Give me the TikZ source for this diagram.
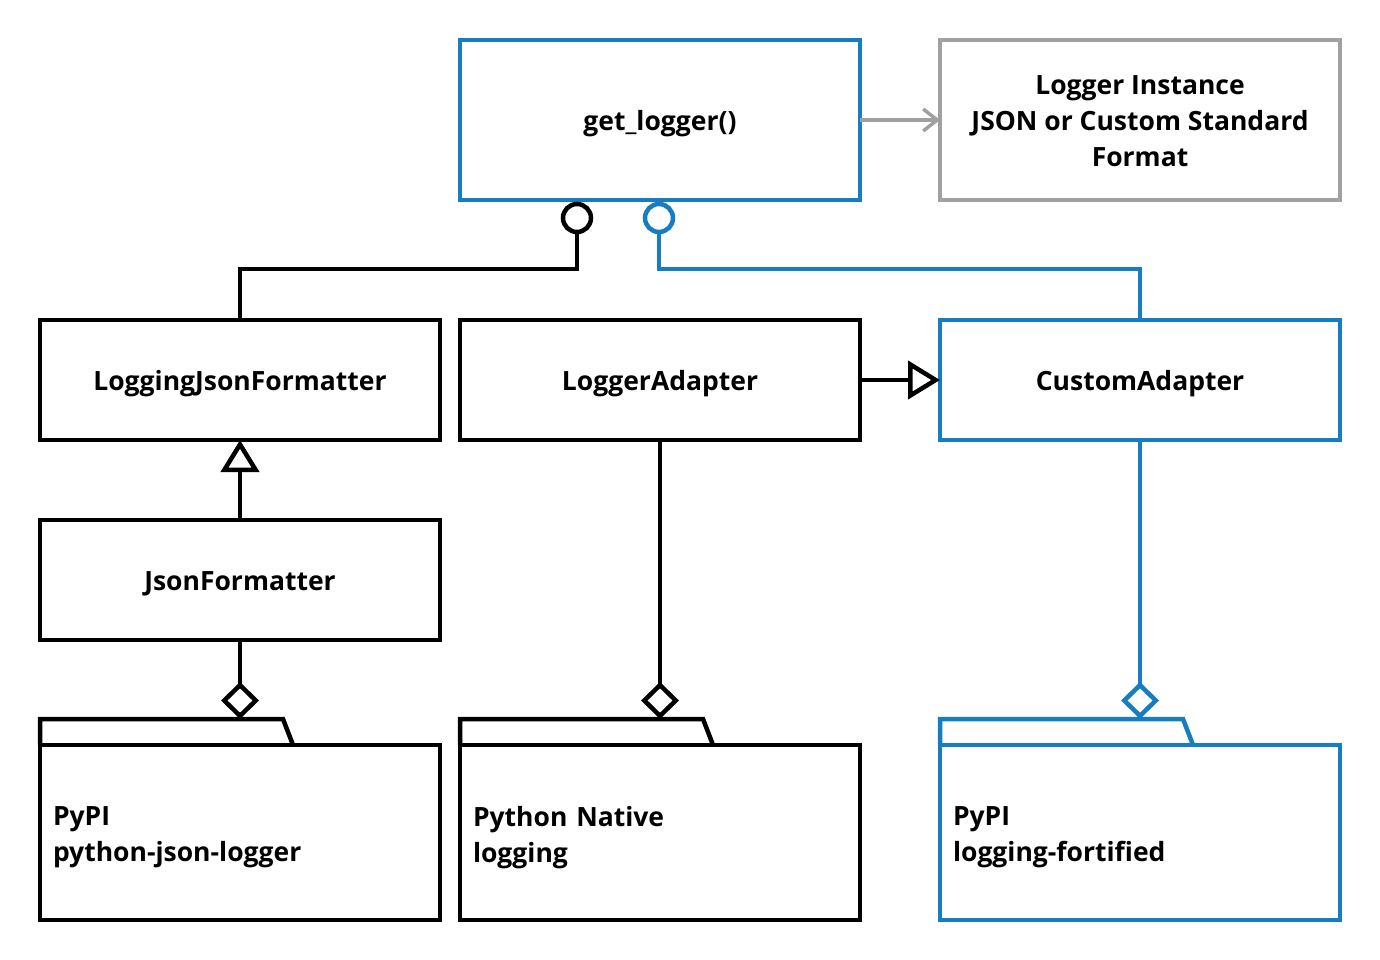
\documentclass[tikz,border=0pt]{standalone}
\usepackage{fontspec}
\setmainfont{Open Sans}
\usetikzlibrary{arrows.meta}
\definecolor{umlblue}{RGB}{22,125,192}
\definecolor{umlgray}{RGB}{160,160,160}
\begin{document}
\begin{tikzpicture}[x=1pt,y=-1pt,
  lbl/.style={font=\fontsize{26.5}{36}\selectfont\bfseries,text=black},
  ctxt/.style={lbl,align=center,yshift=-4pt},
  mtxt/.style={lbl,align=center,yshift=-1.5pt},
  ptxt/.style={lbl,text width=374pt,align=left,yshift=-5pt},
  box/.style={draw,line width=4.5pt,minimum width=400pt,minimum height=120pt,inner sep=0pt,outer sep=0pt},
  tallbox/.style={box,minimum height=160pt},
  pkgbody/.style={draw,line width=4.5pt,minimum width=400pt,minimum height=175pt,inner sep=0pt,outer sep=0pt},
  tabline/.style={line width=4.5pt,line join=miter},
  wire/.style={line width=4.5pt},
  lolli/.style={draw,circle,line width=4.5pt,minimum size=28pt,inner sep=0pt,outer sep=0pt},
  agg/.style={wire,-{Diamond[open,length=37pt,width=38pt]}},
  gen/.style={wire,-{Triangle[open,length=32pt,width=38pt]}},
  dep/.style={wire,line width=3.5pt,umlgray,-{Straight Barb[length=14pt,width=22pt]}}
]
\useasboundingbox (0,0) rectangle (1380,960);
% top row
\node[tallbox,umlblue,label={[ctxt]center:get\_logger()}] (gl) at (660,120) {};
\node[tallbox,umlgray,line width=3.5pt,label={[mtxt]center:Logger Instance\\JSON or Custom Standard\\Format}] (li) at (1140,120) {};
% middle row
\node[box,label={[ctxt]center:LoggingJsonFormatter}] (ljf) at (240,380) {};
\node[box,label={[ctxt]center:LoggerAdapter}] (la) at (660,380) {};
\node[box,umlblue,label={[ctxt]center:CustomAdapter}] (ca) at (1140,380) {};
\node[box,label={[ctxt]center:JsonFormatter}] (jf) at (240,580) {};
% packages
\node[pkgbody,label={[ptxt]center:PyPI\\python-json-logger}] (pA) at (240,832.5) {};
\node[pkgbody,label={[ptxt]center:Python Native\\logging}] (pB) at (660,832.5) {};
\node[pkgbody,umlblue,label={[ptxt]center:PyPI\\logging-fortified}] (pC) at (1140,832.5) {};
\draw[tabline] (pA.north west) -- ++(0,-26) -- ++(243,0) -- ++(10,26);
\draw[tabline] (pB.north west) -- ++(0,-26) -- ++(243,0) -- ++(10,26);
\draw[tabline,umlblue] (pC.north west) -- ++(0,-26) -- ++(243,0) -- ++(10,26);
\path (pA.north) ++(0,-26) coordinate (tA);
\path (pB.north) ++(0,-26) coordinate (tB);
\path (pC.north) ++(0,-26) coordinate (tC);
% lollipops
\node[lolli] (c1) at (577,218) {};
\node[lolli,umlblue] (c2) at (659,218) {};
\draw[wire] (c1.south) -- ++(0,37) -| (ljf.north);
\draw[wire,umlblue] (c2.south) -- ++(0,37) -| (ca.north);
% connectors
\draw[dep] (gl.east) -- (li.west);
\draw[gen] (la.east) -- (ca.west);
\draw[gen] (jf.north) -- (ljf.south);
\draw[agg] (jf.south) -- (tA);
\draw[agg] (la.south) -- (tB);
\draw[agg,umlblue] (ca.south) -- (tC);
\end{tikzpicture}
\end{document}
